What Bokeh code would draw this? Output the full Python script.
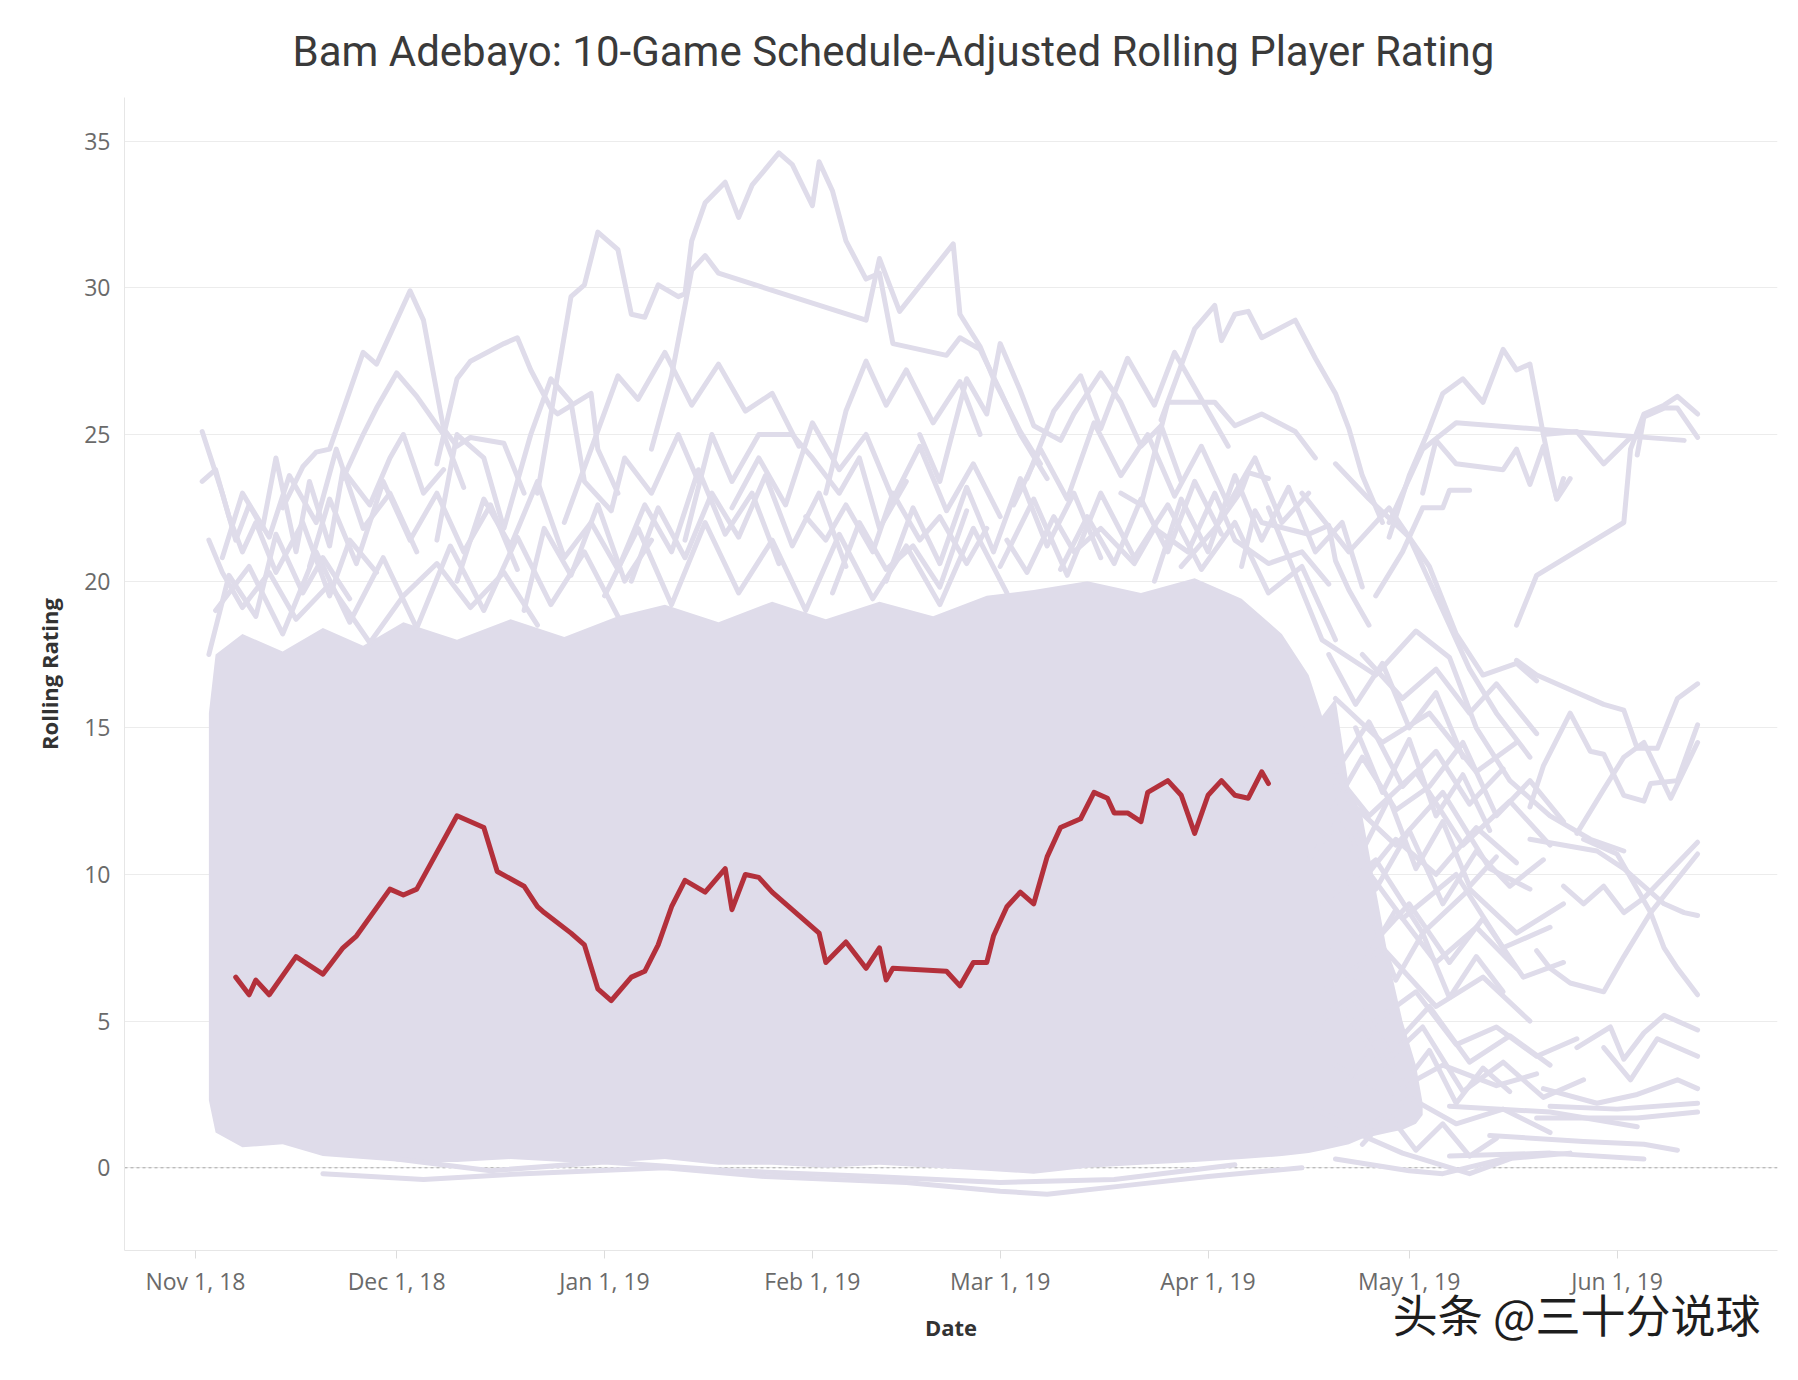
import pandas as pd
from bokeh.plotting import figure
from bokeh.models import Range1d, FixedTicker, DatetimeTickFormatter, Span, Title
from bokeh.embed import file_html
from bokeh.resources import INLINE

# ---------------- data ----------------
title_text = "Bam Adebayo: 10-Game Schedule-Adjusted Rolling Player Rating"
x_label = "Date"
y_label = "Rolling Rating"
watermark = "头条 @三十分说球"

x_ticks = ["2018-11-01", "2018-12-01", "2019-01-01", "2019-02-01",
           "2019-03-01", "2019-04-01", "2019-05-01", "2019-06-01"]
y_ticks = [0, 5, 10, 15, 20, 25, 30, 35]

# highlighted player (Bam Adebayo)
bam_dates = ["2018-11-07", "2018-11-09", "2018-11-10", "2018-11-12", "2018-11-16", "2018-11-20",
             "2018-11-23", "2018-11-25", "2018-11-30", "2018-12-02", "2018-12-04", "2018-12-10",
             "2018-12-14", "2018-12-16", "2018-12-20", "2018-12-22", "2018-12-23", "2018-12-27",
             "2018-12-29", "2018-12-31", "2019-01-02", "2019-01-05", "2019-01-07", "2019-01-09",
             "2019-01-11", "2019-01-13", "2019-01-16", "2019-01-19", "2019-01-20", "2019-01-22",
             "2019-01-24", "2019-01-26", "2019-01-31", "2019-02-02", "2019-02-03", "2019-02-06",
             "2019-02-09", "2019-02-11", "2019-02-12", "2019-02-13", "2019-02-21", "2019-02-23",
             "2019-02-25", "2019-02-27", "2019-02-28", "2019-03-02", "2019-03-04", "2019-03-06",
             "2019-03-08", "2019-03-10", "2019-03-13", "2019-03-15", "2019-03-17", "2019-03-18",
             "2019-03-20", "2019-03-22", "2019-03-23", "2019-03-26", "2019-03-28", "2019-03-30",
             "2019-04-01", "2019-04-03", "2019-04-05", "2019-04-07", "2019-04-09", "2019-04-10"]
bam_values = [6.5, 5.9, 6.4, 5.9, 7.2, 6.6, 7.5, 7.9, 9.5, 9.3, 9.5, 12.0,
              11.6, 10.1, 9.6, 8.9, 8.7, 8.0, 7.6, 6.1, 5.7, 6.5, 6.7, 7.6,
              8.9, 9.8, 9.4, 10.2, 8.8, 10.0, 9.9, 9.4, 8.4, 8.0, 7.0, 7.7,
              6.8, 7.5, 6.4, 6.8, 6.7, 6.2, 7.0, 7.0, 7.9, 8.9, 9.4, 9.0,
              10.6, 11.6, 11.9, 12.8, 12.6, 12.1, 12.1, 11.8, 12.8, 13.2, 12.7, 11.4,
              12.7, 13.2, 12.7, 12.6, 13.5, 13.1]

# the dense core of all other players' lines (lower / upper envelope)
core_dates = ["11-03", "11-04", "11-08", "11-14", "11-20", "11-26", "12-02", "12-10", "12-18",
              "12-26", "01-03", "01-10", "01-18", "01-26", "02-03", "02-11", "02-19", "02-27",
              "03-06", "03-14", "03-22", "03-30", "04-06", "04-12", "04-16", "04-18", "04-20",
              "04-22", "04-24", "04-26", "04-28", "04-30", "05-02", "05-03"]
core_low = [2.3, 1.2, 0.7, 0.8, 0.4, 0.3, 0.2, 0.2, 0.3, 0.2, 0.2, 0.3, 0.1, 0.1, 0.0, 0.1,
            0.0, -0.1, -0.2, 0.0, 0.1, 0.2, 0.3, 0.4, 0.5, 0.6, 0.7, 0.8, 1.0, 1.1, 1.2, 1.3,
            1.5, 1.8]
core_high = [15.5, 17.5, 18.2, 17.6, 18.4, 17.8, 18.6, 18.0, 18.7, 18.1, 18.8, 19.2, 18.6, 19.3,
             18.7, 19.3, 18.8, 19.5, 19.7, 20.0, 19.6, 20.1, 19.4, 18.2, 16.8, 15.4, 16.0, 13.0,
             12.0, 9.5, 7.0, 5.0, 3.5, 2.2]

# other players: high outliers
top_lines = [
    [("12-22", 23.0), ("12-27", 29.7), ("12-29", 30.1), ("12-31", 31.9), ("01-03", 31.3),
     ("01-05", 29.1), ("01-07", 29.0), ("01-09", 30.1), ("01-12", 29.7), ("01-13", 29.8),
     ("01-14", 31.6), ("01-16", 32.9), ("01-19", 33.6), ("01-21", 32.4), ("01-23", 33.5),
     ("01-27", 34.6), ("01-29", 34.2), ("02-01", 32.8), ("02-02", 34.3), ("02-04", 33.3),
     ("02-06", 31.6), ("02-09", 30.3), ("02-11", 30.5), ("02-13", 28.1), ("02-21", 27.7),
     ("02-23", 28.3), ("02-26", 27.9), ("03-01", 26.5), ("03-04", 25.0), ("03-08", 23.5)],
    [("01-08", 24.5), ("01-11", 27.0), ("01-14", 30.6), ("01-16", 31.1), ("01-18", 30.5),
     ("02-09", 28.9), ("02-11", 31.0), ("02-14", 29.2), ("02-22", 31.5), ("02-23", 29.1),
     ("02-26", 28.0), ("02-28", 26.9), ("03-04", 25.1), ("03-07", 24.0)],
    [("11-14", 22.5), ("11-17", 23.9), ("11-19", 24.4), ("11-21", 24.5), ("11-26", 27.8),
     ("11-28", 27.4), ("12-03", 29.9), ("12-05", 28.9), ("12-08", 25.2), ("12-10", 24.6),
     ("12-12", 24.9), ("12-17", 24.7), ("12-20", 23.0)],
    [("12-07", 24.0), ("12-10", 26.9), ("12-12", 27.5), ("12-17", 28.1), ("12-19", 28.3),
     ("12-21", 27.2), ("12-24", 25.9), ("12-25", 25.7), ("12-30", 26.4), ("12-31", 24.5),
     ("01-03", 23.0)],
    [("11-23", 23.5), ("11-26", 25.0), ("11-28", 25.9), ("12-01", 27.1), ("12-04", 26.3),
     ("12-08", 25.0), ("12-11", 23.2)],
    [("03-25", 25.5), ("03-30", 28.6), ("04-02", 29.4), ("04-03", 28.2), ("04-05", 29.1),
     ("04-07", 29.2), ("04-09", 28.3), ("04-14", 28.9), ("04-17", 27.6), ("04-20", 26.4),
     ("04-22", 25.2), ("04-24", 23.6), ("04-27", 22.0)],
    [("03-28", 20.5), ("04-02", 21.8), ("04-06", 23.1), ("04-07", 23.7), ("04-10", 23.5)],
    [("04-06", 20.5), ("04-08", 22.4), ("04-09", 22.0), ("04-16", 21.6), ("04-19", 21.9),
     ("04-20", 20.7), ("04-22", 19.7), ("04-25", 18.5)],
    [("04-26", 19.5), ("04-30", 21.0), ("05-03", 22.5), ("05-06", 22.5), ("05-07", 23.1),
     ("05-10", 23.1)],
    [("12-26", 22.0), ("12-30", 24.5), ("01-03", 27.0), ("01-06", 26.2), ("01-10", 27.8),
     ("01-14", 26.0), ("01-18", 27.4), ("01-22", 25.8), ("01-26", 26.4), ("01-30", 24.6)],
    [("02-03", 23.0), ("02-06", 25.8), ("02-09", 27.5), ("02-12", 26.0), ("02-15", 27.2),
     ("02-19", 25.4), ("02-23", 26.8), ("02-26", 25.0)],
    [("03-05", 23.5), ("03-09", 25.8), ("03-13", 27.0), ("03-16", 25.2), ("03-20", 27.6),
     ("03-24", 26.0), ("03-27", 27.8), ("03-31", 26.2), ("04-04", 24.6)],
]

# other players: the ragged upper fringe of the pack
fringe_lines = [
    [("11-02", 25.1), ("11-05", 23.0), ("11-07", 21.4), ("11-09", 22.6), ("11-11", 21.8),
     ("11-13", 24.2), ("11-16", 21.0), ("11-18", 23.4), ("11-21", 21.2), ("11-23", 23.8),
     ("11-27", 22.6), ("11-30", 24.2), ("12-02", 25.0), ("12-05", 23.0), ("12-08", 23.8)],
    [("11-02", 23.4), ("11-04", 23.8), ("11-06", 22.2), ("11-08", 21.0), ("11-10", 22.0),
     ("11-13", 20.3), ("11-17", 22.0), ("11-21", 19.5), ("11-24", 21.4), ("11-28", 20.3)],
    [("11-03", 21.4), ("11-05", 20.3), ("11-08", 19.1), ("11-12", 20.3), ("11-16", 18.7),
     ("11-21", 19.9), ("11-27", 17.9), ("12-02", 19.5), ("12-07", 20.6), ("12-12", 19.1),
     ("12-17", 20.3), ("12-22", 18.5)],
    [("12-07", 21.4), ("12-10", 25.0), ("12-14", 24.2), ("12-17", 21.8), ("12-21", 25.0),
     ("12-24", 26.9), ("12-27", 26.1), ("12-29", 23.4), ("01-02", 22.4), ("01-04", 24.2),
     ("01-08", 23.0), ("01-12", 25.0), ("01-15", 23.4)],
    [("01-13", 21.4), ("01-17", 25.0), ("01-20", 23.4), ("01-24", 25.0), ("01-29", 25.0),
     ("02-01", 24.2), ("02-05", 23.0), ("02-08", 24.2), ("02-11", 21.8), ("02-15", 23.4)],
    [("02-17", 25.0), ("02-20", 23.4), ("02-24", 26.9), ("02-27", 25.7), ("03-01", 28.1),
     ("03-04", 26.5), ("03-06", 25.3), ("03-10", 24.8), ("03-12", 25.7), ("03-16", 27.1),
     ("03-19", 26.1), ("03-22", 24.6), ("03-25", 25.3), ("03-28", 23.4)],
    [("03-19", 23.0), ("03-22", 22.6), ("03-26", 26.1), ("04-02", 26.1), ("04-05", 25.3),
     ("04-09", 25.7), ("04-14", 25.1), ("04-17", 24.2)],
    [("01-31", 22.2), ("02-03", 21.4), ("02-06", 22.6), ("02-10", 21.0), ("02-13", 23.0),
     ("02-17", 21.4), ("02-20", 22.2), ("02-24", 20.6), ("02-27", 21.8)],
    [("03-02", 21.4), ("03-05", 20.3), ("03-09", 22.2), ("03-12", 21.0), ("03-16", 21.8),
     ("03-21", 20.6), ("03-24", 21.8), ("03-29", 21.0), ("04-02", 23.0), ("04-05", 21.4),
     ("04-10", 20.6), ("04-15", 21.0), ("04-19", 19.9)],
    [("11-04", 19.0), ("11-09", 20.5), ("11-14", 18.2), ("11-19", 21.0), ("11-24", 18.6),
     ("11-29", 20.8), ("12-04", 18.4), ("12-09", 21.2), ("12-14", 19.0), ("12-19", 21.5),
     ("12-24", 19.2), ("12-29", 21.0), ("01-03", 18.8)],
    [("01-01", 19.5), ("01-06", 21.8), ("01-11", 19.2), ("01-16", 22.0), ("01-21", 19.6),
     ("01-26", 21.4), ("01-31", 19.0), ("02-05", 21.6), ("02-10", 19.4), ("02-15", 21.2),
     ("02-20", 19.2), ("02-25", 21.8), ("03-02", 19.6)],
    [("03-01", 20.5), ("03-06", 22.8), ("03-11", 20.2), ("03-16", 23.0), ("03-21", 20.8),
     ("03-26", 22.6), ("03-31", 20.4), ("04-05", 22.0), ("04-10", 19.6), ("04-15", 20.5),
     ("04-20", 18.0)],
    [("11-05", 20.8), ("11-08", 23.0), ("11-12", 21.5), ("11-15", 23.6), ("11-19", 22.0),
     ("11-22", 24.5), ("11-26", 21.8), ("11-30", 23.0), ("12-04", 21.0)],
    [("12-10", 20.0), ("12-14", 22.8), ("12-18", 21.2), ("12-22", 23.4), ("12-26", 20.8),
     ("12-30", 22.0), ("01-03", 20.4), ("01-07", 22.6), ("01-11", 21.0), ("01-15", 23.8),
     ("01-19", 21.6), ("01-23", 23.0), ("01-27", 20.6)],
    [("01-20", 22.5), ("01-24", 24.2), ("01-28", 22.6), ("02-01", 25.4), ("02-05", 23.8),
     ("02-09", 25.0), ("02-13", 22.8), ("02-17", 24.6), ("02-21", 22.4), ("02-25", 24.0),
     ("03-01", 22.2)],
    [("03-03", 22.6), ("03-07", 24.5), ("03-11", 22.8), ("03-15", 25.4), ("03-19", 23.6),
     ("03-23", 25.0), ("03-27", 22.9), ("03-31", 24.6), ("04-04", 22.6), ("04-08", 24.2),
     ("04-12", 22.0), ("04-16", 23.0)],
    [("11-18", 20.5), ("11-21", 22.8), ("11-25", 20.6), ("11-29", 23.4), ("12-03", 21.4),
     ("12-07", 23.0), ("12-11", 21.0), ("12-15", 22.6), ("12-19", 20.4)],
    [("01-05", 20.0), ("01-09", 22.5), ("01-13", 20.8), ("01-17", 23.0), ("01-21", 21.5),
     ("01-25", 23.6), ("01-29", 21.2), ("02-02", 23.0), ("02-06", 20.5)],
    [("02-12", 20.0), ("02-16", 22.5), ("02-20", 20.6), ("02-24", 23.2), ("02-28", 21.0),
     ("03-04", 23.5), ("03-08", 21.2), ("03-12", 23.0), ("03-16", 20.8)],
    [("03-24", 20.0), ("03-28", 22.8), ("04-01", 21.0), ("04-05", 23.6), ("04-09", 21.4),
     ("04-13", 23.2), ("04-17", 21.0), ("04-21", 22.0), ("04-24", 19.8)],
    [("11-03", 17.5), ("11-06", 20.2), ("11-10", 18.8), ("11-13", 21.6), ("11-17", 19.6),
     ("11-20", 20.8), ("11-24", 19.4)],
    [("12-20", 19.0), ("12-23", 21.8), ("12-27", 20.2), ("12-31", 22.6), ("01-04", 20.0),
     ("01-08", 21.4)],
    [("02-04", 19.6), ("02-08", 22.0), ("02-12", 20.4), ("02-16", 21.2), ("02-20", 19.8),
     ("02-24", 22.4)],
    [("03-10", 20.4), ("03-14", 22.2), ("03-18", 20.6), ("03-22", 22.8), ("03-26", 21.0),
     ("03-30", 23.4), ("04-03", 21.6)],
]

# other players: late season / playoff tail
tail_lines = [
    [("04-28", 21.5), ("05-01", 23.6), ("05-04", 25.2), ("05-06", 26.4), ("05-09", 26.9),
     ("05-12", 26.1), ("05-15", 27.9), ("05-17", 27.2), ("05-19", 27.4), ("05-21", 25.0),
     ("05-23", 22.8), ("05-24", 23.5)],
    [("04-28", 22.0), ("05-03", 24.5), ("05-08", 25.4), ("06-11", 24.8)],
    [("05-17", 18.5), ("05-20", 20.2), ("06-02", 22.0), ("06-03", 24.5), ("06-05", 25.7),
     ("06-08", 26.0), ("06-10", 26.3), ("06-13", 25.7)],
    [("06-04", 24.3), ("06-05", 25.6), ("06-08", 25.9), ("06-10", 25.9), ("06-13", 24.9)],
    [("05-03", 23.0), ("05-05", 24.8), ("05-08", 24.0), ("05-15", 23.8), ("05-17", 24.5),
     ("05-19", 23.3), ("05-21", 24.6), ("05-23", 22.8), ("05-25", 23.5)],
    [("05-21", 25.0), ("05-26", 25.1), ("05-30", 24.0), ("06-03", 24.9)],
    [("04-20", 24.0), ("04-25", 22.8), ("05-01", 21.5), ("05-05", 19.5), ("05-10", 17.0),
     ("05-14", 15.5), ("05-19", 14.0)],
    [("04-15", 23.0), ("04-22", 21.0), ("04-28", 22.5), ("05-04", 20.5), ("05-08", 18.2),
     ("05-12", 16.8), ("05-17", 17.2), ("05-20", 16.6)],
    [("04-10", 22.5), ("04-18", 18.0), ("04-26", 16.8), ("05-02", 18.3), ("05-07", 17.4),
     ("05-11", 15.0), ("05-16", 13.2), ("05-22", 12.0), ("05-28", 11.2), ("06-02", 10.8)],
    [("05-17", 17.3), ("05-20", 16.8), ("05-30", 15.8), ("06-02", 15.6), ("06-04", 14.3),
     ("06-07", 14.3), ("06-10", 16.0), ("06-13", 16.5)],
    [("05-19", 12.3), ("05-21", 13.7), ("05-25", 15.5), ("05-28", 14.2), ("05-30", 14.1),
     ("06-02", 12.7), ("06-05", 12.5), ("06-06", 13.1), ("06-10", 13.2), ("06-13", 15.1)],
    [("05-26", 11.4), ("05-30", 12.9), ("06-02", 14.0), ("06-05", 14.5), ("06-09", 12.6),
     ("06-13", 14.5)],
    [("05-20", 7.4), ("05-22", 6.8), ("05-25", 6.3), ("05-30", 6.0), ("06-02", 7.2),
     ("06-06", 8.7), ("06-13", 10.7)],
    [("05-24", 9.6), ("05-27", 9.0), ("05-30", 9.6), ("06-02", 8.7), ("06-05", 9.2),
     ("06-13", 11.1)],
    [("05-19", 11.2), ("05-29", 10.8), ("06-02", 10.2), ("06-06", 9.4), ("06-08", 9.0),
     ("06-11", 8.7), ("06-13", 8.6)],
    [("05-27", 11.2), ("06-01", 10.7), ("06-06", 8.7), ("06-08", 7.5), ("06-10", 6.8),
     ("06-13", 5.9)],
    [("05-26", 4.1), ("05-31", 4.8), ("06-02", 3.7), ("06-05", 4.6), ("06-08", 5.2),
     ("06-13", 4.7)],
    [("05-30", 4.1), ("06-03", 3.0), ("06-07", 4.4), ("06-13", 3.8)],
    [("05-21", 2.7), ("05-29", 2.2), ("06-04", 2.5), ("06-10", 3.0), ("06-13", 2.7)],
    [("05-22", 2.1), ("06-01", 2.0), ("06-13", 2.2)],
    [("05-20", 1.7), ("06-04", 1.7), ("06-13", 1.9)],
    [("05-13", 1.1), ("05-27", 0.9), ("06-05", 0.8), ("06-10", 0.6)],
    [("05-07", 0.4), ("05-22", 0.5), ("06-05", 0.3)],
    [("05-07", 2.1), ("05-22", 1.9), ("06-04", 1.4)],
    [("04-18", 14.0), ("04-25", 12.0), ("05-02", 13.5), ("05-09", 11.0), ("05-16", 12.5),
     ("05-22", 11.0)],
    [("04-18", 9.0), ("04-26", 10.5), ("05-03", 8.0), ("05-10", 9.5), ("05-17", 8.0),
     ("05-24", 9.0)],
    [("04-18", 6.0), ("04-27", 7.5), ("05-05", 5.5), ("05-12", 6.5), ("05-19", 5.0)],
    [("04-20", 3.5), ("04-28", 2.5), ("05-06", 3.5), ("05-14", 2.8), ("05-20", 3.2)],
    [("04-20", 16.0), ("04-27", 14.5), ("05-04", 15.5), ("05-11", 13.5), ("05-17", 14.5)],
    [("04-22", 11.0), ("04-30", 8.5), ("05-08", 10.0), ("05-15", 7.5), ("05-22", 8.2)],
    [("04-20", 1.5), ("04-30", 0.5), ("05-10", -0.2), ("05-16", 0.3)],
    [("04-24", 17.5), ("04-30", 16.0), ("05-05", 17.0), ("05-10", 15.5), ("05-14", 16.5),
     ("05-20", 14.8)],
    [("04-26", 5.0), ("05-02", 6.0), ("05-08", 4.2), ("05-14", 4.8), ("05-20", 3.8),
     ("05-26", 4.4)],
    [("04-22", 12.5), ("04-29", 11.0), ("05-06", 12.8), ("05-13", 10.2), ("05-19", 9.5)],
    [("04-25", 7.5), ("05-01", 9.0), ("05-07", 7.0), ("05-12", 8.5), ("05-18", 6.5),
     ("05-24", 7.0)],
    [("04-15", 15.0), ("04-20", 13.5), ("04-25", 15.2), ("04-30", 13.0), ("05-05", 14.2),
     ("05-10", 12.4), ("05-15", 13.6)],
    [("04-16", 10.5), ("04-21", 12.0), ("04-26", 9.5), ("05-01", 11.5), ("05-06", 9.0),
     ("05-11", 10.8), ("05-16", 9.6), ("05-21", 10.5)],
    [("04-16", 4.5), ("04-22", 6.0), ("04-28", 4.0), ("05-04", 5.5), ("05-10", 3.6),
     ("05-16", 4.5), ("05-22", 3.5)],
    [("04-17", 2.0), ("04-24", 1.2), ("05-01", 2.4), ("05-08", 1.5), ("05-15", 2.0),
     ("05-22", 1.2)],
    [("04-18", 8.0), ("04-23", 6.5), ("04-29", 8.8), ("05-05", 7.0), ("05-11", 8.2),
     ("05-17", 6.8)],
    [("04-19", 12.0), ("04-24", 14.0), ("04-29", 12.2), ("05-04", 13.0), ("05-09", 14.5),
     ("05-14", 12.0), ("05-19", 13.2), ("05-24", 11.8)],
    [("04-21", 5.5), ("04-27", 3.5), ("05-03", 4.8), ("05-09", 2.6), ("05-15", 3.6),
     ("05-21", 2.4), ("05-27", 3.0)],
    [("04-23", 9.5), ("04-29", 11.2), ("05-05", 10.0), ("05-11", 11.6), ("05-17", 10.4)],
    [("04-19", 17.5), ("04-23", 15.8), ("04-27", 17.2), ("05-01", 15.0), ("05-05", 16.2),
     ("05-09", 14.0)],
    [("04-20", 13.0), ("04-24", 10.8), ("04-28", 12.6), ("05-02", 10.2), ("05-06", 11.8),
     ("05-10", 9.6), ("05-14", 10.6)],
    [("04-21", 7.0), ("04-25", 8.8), ("04-29", 6.4), ("05-03", 8.0), ("05-07", 5.8),
     ("05-11", 7.2), ("05-15", 6.0)],
    [("04-22", 3.0), ("04-26", 4.6), ("04-30", 2.8), ("05-04", 4.0), ("05-08", 2.2),
     ("05-12", 3.4), ("05-16", 2.6)],
    [("04-23", 15.0), ("04-27", 12.8), ("05-01", 14.6), ("05-05", 12.0), ("05-09", 13.4),
     ("05-13", 11.5)],
    [("04-24", 0.8), ("04-28", 1.8), ("05-02", 0.6), ("05-06", 1.5), ("05-10", 0.4),
     ("05-14", 1.0)],
]

# other players: lowest lines of the pack
bottom_lines = [
    [("11-20", -0.2), ("12-05", -0.4), ("12-20", -0.2), ("01-10", 0.0), ("01-25", -0.3),
     ("02-15", -0.5), ("03-01", -0.8), ("03-08", -0.9), ("03-20", -0.6), ("04-01", -0.3),
     ("04-15", 0.0)],
    [("12-01", 0.3), ("12-15", -0.1), ("01-01", 0.2), ("01-20", -0.1), ("02-10", -0.3),
     ("03-01", -0.5), ("03-18", -0.4), ("04-05", 0.1)],
    [("04-20", 0.3), ("05-01", -0.1), ("05-06", -0.2), ("05-15", 0.3), ("05-25", 0.5)],
]

# ---------------- helpers ----------------
def ms_full(s):
    return pd.Timestamp(s).value / 1e6


def ms_md(md):
    month = int(md.split("-")[0])
    year = 2018 if month >= 10 else 2019
    return pd.Timestamp(f"{year}-{md}").value / 1e6


LAV = "#dfdcea"
RED = "#b3303b"
TXT = "#333333"
TICK = "#6a6a6a"

p = figure(width=1790, height=1372, x_axis_type="datetime",
           output_backend="svg", toolbar_location=None,
           x_range=Range1d(ms_full("2018-10-21 10:00"), ms_full("2019-06-24 22:00")),
           y_range=Range1d(-2.82, 36.49),
           min_border_left=124, min_border_right=13, min_border_top=97, min_border_bottom=122)
p.outline_line_color = None
p.background_fill_color = "white"
p.border_fill_color = "white"

# title (left-aligned with an offset so it sits centred on the page)
p.title.text = title_text
p.title.align = "left"
p.title.offset = 168
p.title.standoff = 44
p.title.text_font = "Roboto"
p.title.text_font_size = "42px"
p.title.text_font_style = "normal"
p.title.text_color = "#3a3a3a"

# grid
p.xgrid.visible = False
p.ygrid.grid_line_color = "#ececec"
p.ygrid.grid_line_width = 1
p.ygrid.ticker = FixedTicker(ticks=y_ticks)

zero = Span(location=0, dimension="width", line_color="#a8a8a8", line_width=1,
            line_dash="3 3", level="underlay")
p.add_layout(zero)

# dense core
p.varea(x=[ms_md(d) for d in core_dates], y1=core_low, y2=core_high,
        fill_color=LAV, fill_alpha=1.0)

# all other players' lines
all_bg = top_lines + fringe_lines + tail_lines + bottom_lines
xs = [[ms_md(d) for d, _ in line] for line in all_bg]
ys = [[v for _, v in line] for line in all_bg]
p.multi_line(xs=xs, ys=ys, line_color=LAV, line_width=5,
             line_join="round", line_cap="round")

# highlighted player
p.line(x=[ms_full(d) for d in bam_dates], y=bam_values, line_color=RED,
       line_width=5, line_join="round", line_cap="round")

# axes
p.xaxis.ticker = FixedTicker(ticks=[ms_full(d) for d in x_ticks])
fmt = "%b %-d, %y"
p.xaxis.formatter = DatetimeTickFormatter(
    microseconds=fmt, milliseconds=fmt, seconds=fmt, minsec=fmt, minutes=fmt,
    hourmin=fmt, hours=fmt, days=fmt, months=fmt, years=fmt)
p.xaxis.axis_label = x_label
p.xaxis.axis_label_text_font = "Open Sans"
p.xaxis.axis_label_text_font_style = "bold"
p.xaxis.axis_label_text_font_size = "22px"
p.xaxis.axis_label_text_color = TXT
p.xaxis.axis_label_standoff = 12
p.xaxis.major_label_text_font = "Open Sans"
p.xaxis.major_label_text_font_size = "23px"
p.xaxis.major_label_text_color = TICK
p.xaxis.major_label_standoff = 6
p.xaxis.major_tick_out = 8
p.xaxis.major_tick_in = 0
p.xaxis.major_tick_line_color = "#dcdcdc"
p.xaxis.minor_tick_line_color = None
p.xaxis.axis_line_color = "#e6e6e6"

p.yaxis.ticker = FixedTicker(ticks=y_ticks)
p.yaxis.axis_label = y_label
p.yaxis.axis_label_text_font = "Open Sans"
p.yaxis.axis_label_text_font_style = "bold"
p.yaxis.axis_label_text_font_size = "22px"
p.yaxis.axis_label_text_color = TXT
p.yaxis.axis_label_standoff = 17
p.yaxis.major_label_text_font = "Open Sans"
p.yaxis.major_label_text_font_size = "23px"
p.yaxis.major_label_text_color = TICK
p.yaxis.major_label_standoff = 14
p.yaxis.major_tick_line_color = None
p.yaxis.major_tick_out = 0
p.yaxis.minor_tick_line_color = None
p.yaxis.axis_line_color = "#e6e6e6"

# watermark: a bottom title pulled up (negative standoff) beside the axis label
wm = Title(text=watermark, align="right", vertical_align="top", offset=17, standoff=-128,
           text_font="Noto Sans CJK SC", text_font_size="45px", text_font_style="normal",
           text_color="#1e1e1e")
p.add_layout(wm, "below")

open("out.html", "w").write(file_html(p, INLINE))
